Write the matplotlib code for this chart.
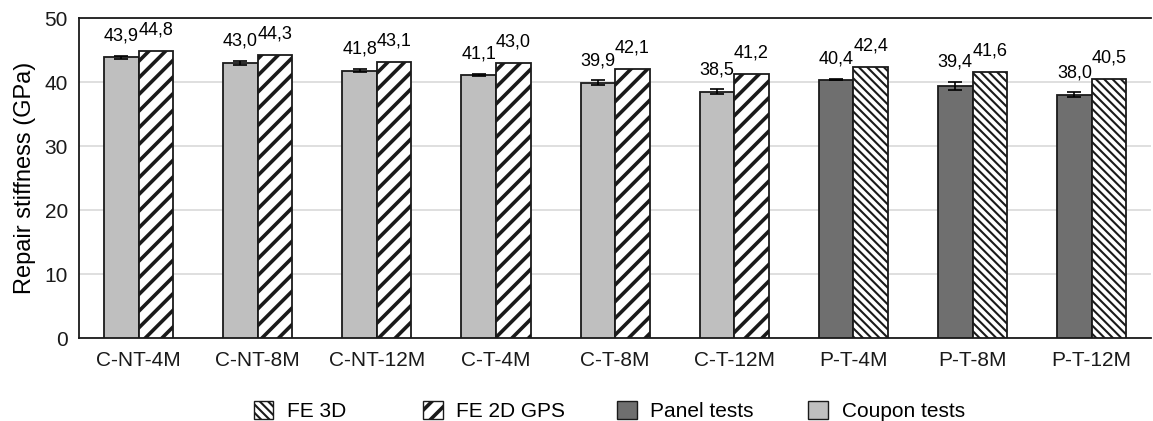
import numpy as np
import matplotlib
matplotlib.use("Agg")
import matplotlib.pyplot as plt
from matplotlib.patches import Patch

plt.rcParams['font.family'] = ['Liberation Sans', 'DejaVu Sans']
plt.rcParams['hatch.color'] = '#404040'

specimens = ["C-NT-4M", "C-NT-8M", "C-NT-12M", "C-T-4M", "C-T-8M", "C-T-12M",
             "P-T-4M", "P-T-8M", "P-T-12M"]
# experimental mean stiffness and scatter (GPa)
test_mean = [43.9, 43.0, 41.8, 41.1, 39.9, 38.5, 40.4, 39.4, 38.0]
test_err = [0.25, 0.35, 0.3, 0.2, 0.4, 0.4, 0.15, 0.6, 0.4]
test_kind = ["coupon"] * 6 + ["panel"] * 3
# numerical predictions
fe_value = [44.8, 44.3, 43.1, 43.0, 42.1, 41.2, 42.4, 41.6, 40.5]
fe_kind = ["2d"] * 6 + ["3d"] * 3

COUPON = "#bfbfbf"
PANEL = "#6f6f6f"
EDGE = "#1a1a1a"
HATCH = {"2d": ('//', 2.6), "3d": ('\\\\\\\\', 1.5)}


def hatch_width(p, lw):
    if hasattr(p, 'set_hatch_linewidth'):
        p.set_hatch_linewidth(lw)
    else:
        p._hatch_linewidth = lw


fig = plt.figure(figsize=(11.53, 4.21), dpi=100)
ax = fig.add_axes([0.0685, 0.197, 0.93, 0.76])

x = np.arange(len(specimens))
w = 0.29

for i in range(len(specimens)):
    c = COUPON if test_kind[i] == "coupon" else PANEL
    ax.bar(x[i] - w / 2, test_mean[i], w, color=c, edgecolor=EDGE, linewidth=1.3, zorder=3)
    ax.errorbar(x[i] - w / 2, test_mean[i], yerr=test_err[i], fmt='none', ecolor='black',
                elinewidth=1.2, capsize=5, capthick=1.2, zorder=4)
    ax.annotate(f"{test_mean[i]:.1f}".replace(".", ","), (x[i] - w / 2, test_mean[i] + test_err[i]),
                xytext=(0, 8), textcoords='offset points', ha='center', va='bottom', fontsize=13)

    hatch, hlw = HATCH[fe_kind[i]]
    bars = ax.bar(x[i] + w / 2, fe_value[i], w, color='white', edgecolor=EDGE, hatch=hatch,
                  linewidth=1.3, zorder=3)
    for b in bars:
        hatch_width(b, hlw)
    ax.annotate(f"{fe_value[i]:.1f}".replace(".", ","), (x[i] + w / 2, fe_value[i]),
                xytext=(0, 9), textcoords='offset points', ha='center', va='bottom', fontsize=13)

ax.set_xlim(-0.5, len(specimens) - 0.5)
ax.set_ylim(0, 50)
ax.set_yticks([0, 10, 20, 30, 40, 50])
ax.set_xticks(x)
ax.set_xticklabels(specimens)
ax.tick_params(axis='both', length=0, labelsize=15, colors='#1a1a1a')
ax.tick_params(axis='x', pad=9)
ax.tick_params(axis='y', pad=8)
ax.set_ylabel("Repair stiffness (GPa)", fontsize=17, labelpad=6)
ax.yaxis.grid(True, color='#d9d9d9', linewidth=1.2, zorder=0)
ax.set_axisbelow(True)
ax.spines['right'].set_visible(False)
for s in ['left', 'top', 'bottom']:
    ax.spines[s].set_color('#1a1a1a')
    ax.spines[s].set_linewidth(1.3)

# legend entries sit in fixed-width slots along the bottom edge
h3d = Patch(facecolor='white', edgecolor=EDGE, hatch=HATCH["3d"][0], label="FE 3D")
h2d = Patch(facecolor='white', edgecolor=EDGE, hatch=HATCH["2d"][0], label="FE 2D GPS")
hp = Patch(facecolor=PANEL, edgecolor=EDGE, label="Panel tests")
hc = Patch(facecolor=COUPON, edgecolor=EDGE, label="Coupon tests")
slots = [0.220, 0.367, 0.535, 0.701]
for h, xs, kind in zip([h3d, h2d, hp, hc], slots, ["3d", "2d", None, None]):
    leg = fig.legend(handles=[h], loc='center left', bbox_to_anchor=(xs, 0.024),
                     frameon=False, fontsize=15, handlelength=0.95, handleheight=0.95,
                     handletextpad=0.65, borderpad=0, borderaxespad=0)
    if kind:
        hatch_width(leg.get_patches()[0], HATCH[kind][1])

fig.savefig("out.png", dpi=100)
